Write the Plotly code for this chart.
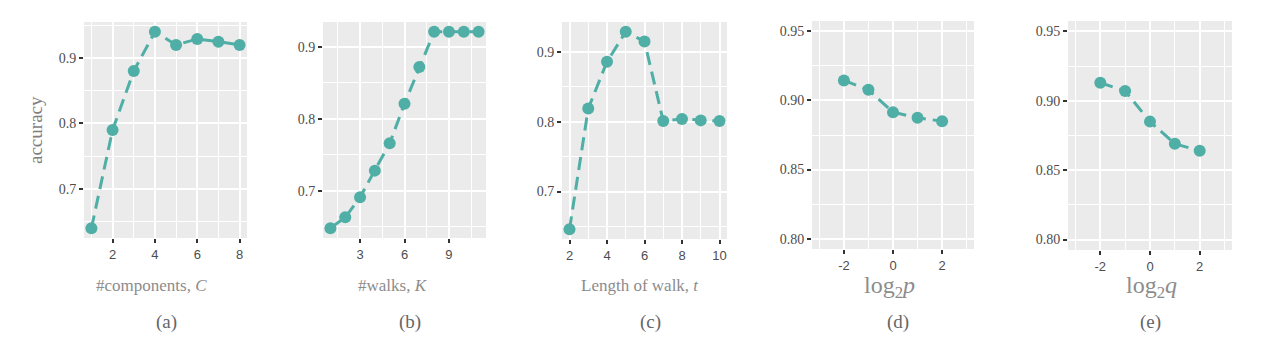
import plotly.graph_objects as go

# ---- data ----
comp_x = [1, 2, 3, 4, 5, 6, 7, 8]
comp_y = [0.640, 0.790, 0.880, 0.940, 0.920, 0.929, 0.925, 0.920]

walks_x = [1, 2, 3, 4, 5, 6, 7, 8, 9, 10, 11]
walks_y = [0.648, 0.663, 0.691, 0.728, 0.766, 0.821, 0.872, 0.921, 0.921, 0.921, 0.921]

len_x = [2, 3, 4, 5, 6, 7, 8, 9, 10]
len_y = [0.646, 0.819, 0.886, 0.929, 0.915, 0.801, 0.804, 0.802, 0.801]

logp_x = [-2, -1, 0, 1, 2]
logp_y = [0.9145, 0.9077, 0.8915, 0.8875, 0.885]

logq_x = [-2, -1, 0, 1, 2]
logq_y = [0.913, 0.907, 0.885, 0.869, 0.864]

# tick labels
a_xt = [2, 4, 6, 8]; a_xl = ["2", "4", "6", "8"]
b_xt = [3, 6, 9]; b_xl = ["3", "6", "9"]
c_xt = [2, 4, 6, 8, 10]; c_xl = ["2", "4", "6", "8", "10"]
pq_xt = [-2, 0, 2]; pq_xl = ["-2", "0", "2"]
acc_yt = [0.7, 0.8, 0.9]; acc_yl = ["0.7", "0.8", "0.9"]
pq_yt = [0.80, 0.85, 0.90, 0.95]; pq_yl = ["0.80", "0.85", "0.90", "0.95"]

x_titles = ["#components, <i>C</i>", "#walks, <i>K</i>", "Length of walk, <i>t</i>",
            "log<sub>2</sub><i>p</i>", "log<sub>2</sub><i>q</i>"]
captions = ["(a)", "(b)", "(c)", "(d)", "(e)"]

W, H = 1269, 351
TEAL = "#4faea5"
SERIF = "Liberation Serif"
SANS = "Liberation Sans"

panels = [
    dict(x=comp_x, y=comp_y, px=(84, 247), py=(22, 238), xr=[0.65, 8.35], yr=[0.625, 0.955],
         xt=a_xt, xl=a_xl, xm=[1, 3, 5, 7], yt=acc_yt, yl=acc_yl, ym=[0.65, 0.75, 0.85, 0.95]),
    dict(x=walks_x, y=walks_y, px=(323, 486), py=(22, 238), xr=[0.5, 11.5], yr=[0.6343, 0.9347],
         xt=b_xt, xl=b_xl, xm=[1.5, 4.5, 7.5, 10.5], yt=acc_yt, yl=acc_yl, ym=[0.65, 0.75, 0.85]),
    dict(x=len_x, y=len_y, px=(562, 727), py=(22, 239), xr=[1.6, 10.4], yr=[0.632, 0.943],
         xt=c_xt, xl=c_xl, xm=[3, 5, 7, 9], yt=acc_yt, yl=acc_yl, ym=[0.65, 0.75, 0.85]),
    dict(x=logp_x, y=logp_y, px=(812, 974), py=(21, 249), xr=[-3.3, 3.3], yr=[0.7925, 0.9575],
         xt=pq_xt, xl=pq_xl, xm=[-3, -1, 1, 3], yt=pq_yt, yl=pq_yl, ym=[0.825, 0.875, 0.925]),
    dict(x=logq_x, y=logq_y, px=(1068, 1232), py=(21, 250), xr=[-3.3, 3.3], yr=[0.7925, 0.9575],
         xt=pq_xt, xl=pq_xl, xm=[-3, -1, 1, 3], yt=pq_yt, yl=pq_yl, ym=[0.825, 0.875, 0.925]),
]

fig = go.Figure()
layout = {}
for i, p in enumerate(panels):
    n = "" if i == 0 else str(i + 1)
    fig.add_trace(go.Scatter(
        x=p["x"], y=p["y"], mode="lines+markers", xaxis="x" + n, yaxis="y" + n,
        line=dict(color=TEAL, width=3, dash="13px,7px"),
        marker=dict(color=TEAL, size=12), showlegend=False, hoverinfo="skip"))
    layout["xaxis" + n] = dict(
        domain=[p["px"][0] / W, p["px"][1] / W], range=p["xr"], anchor="y" + n,
        tickmode="array", tickvals=p["xt"], ticktext=p["xl"],
        ticks="outside", ticklen=4, tickwidth=1.5, tickcolor="#333333",
        tickfont=dict(family=SANS, size=13, color="#4d4d4d"),
        showgrid=True, gridcolor="white", gridwidth=1.5, zeroline=False, showline=False,
        minor=dict(tickmode="array", tickvals=p["xm"], showgrid=True, gridcolor="white",
                   gridwidth=0.7, ticks=""),
        fixedrange=True)
    layout["yaxis" + n] = dict(
        domain=[1 - p["py"][1] / H, 1 - p["py"][0] / H], range=p["yr"], anchor="x" + n,
        tickmode="array", tickvals=p["yt"], ticktext=p["yl"],
        ticks="outside", ticklen=4, tickwidth=1.5, tickcolor="#333333",
        tickfont=dict(family=SERIF, size=14, color="#4d4d4d"),
        showgrid=True, gridcolor="white", gridwidth=1.5, zeroline=False, showline=False,
        minor=dict(tickmode="array", tickvals=p["ym"], showgrid=True, gridcolor="white",
                   gridwidth=0.7, ticks=""),
        fixedrange=True)

ann = []
title_pos = [(151, 285, 17), (393, 285, 17), (640, 285, 17), (889, 287, 24), (1151, 287, 24)]
cap_pos = [166, 410, 650, 898, 1150]
for t, (x, y, s) in zip(x_titles, title_pos):
    ann.append(dict(text=t, x=x / W, y=1 - y / H, xref="paper", yref="paper", showarrow=False,
                    xanchor="center", yanchor="middle",
                    font=dict(family=SERIF, size=s, color="#8c8c8c")))
for c, x in zip(captions, cap_pos):
    ann.append(dict(text=c, x=x / W, y=1 - 322 / H, xref="paper", yref="paper", showarrow=False,
                    xanchor="center", yanchor="middle",
                    font=dict(family=SERIF, size=19, color="#666666")))
ann.append(dict(text="accuracy", x=35 / W, y=1 - 130 / H, xref="paper", yref="paper",
                showarrow=False, textangle=-90, xanchor="center", yanchor="middle",
                font=dict(family=SERIF, size=19, color="#7f7f7f")))

fig.update_layout(width=W, height=H, margin=dict(l=0, r=0, t=0, b=0),
                  paper_bgcolor="white", plot_bgcolor="#ebebeb", annotations=ann, **layout)
fig.write_html("out.html")
